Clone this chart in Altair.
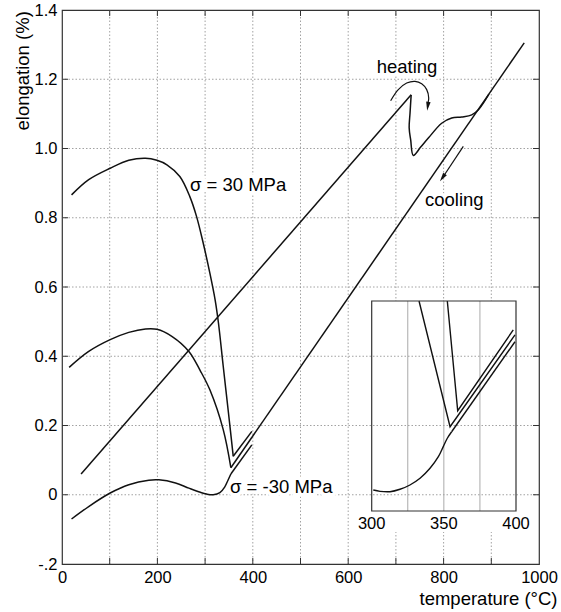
import altair as alt
import pandas as pd

# ---------------- data ----------------
# sigma = 30 MPa : smooth left branch down to its V, then short straight line up
S30_T = [20, 56, 101, 140, 175, 199, 220, 247, 268, 282, 296, 310, 321, 328, 338, 349, 359]
S30_E = [0.866, 0.910, 0.943, 0.966, 0.972, 0.966, 0.953, 0.919, 0.861, 0.804, 0.727, 0.640,
         0.563, 0.496, 0.371, 0.236, 0.111]
S30_LINE_T = [359, 398]
S30_LINE_E = [0.111, 0.183]

# sigma = 0 : left branch, V, then the long cooling line up to the top right
S0_T = [15, 56, 101, 140, 175, 199, 231, 266, 290, 310, 338, 354]
S0_E = [0.368, 0.414, 0.448, 0.469, 0.479, 0.478, 0.457, 0.414, 0.358, 0.303, 0.188, 0.078]
S0_LINE_T = [354, 969]
S0_LINE_E = [0.078, 1.305]

# sigma = -30 MPa
SM30_T = [20, 56, 101, 140, 182, 203, 238, 266, 290, 303, 317, 331, 341, 348, 354]
SM30_E = [-0.070, -0.034, 0.005, 0.029, 0.042, 0.043, 0.034, 0.019, 0.007, 0.002, 0.000,
          0.006, 0.022, 0.042, 0.060]
SM30_LINE_T = [354, 398]
SM30_LINE_E = [0.060, 0.144]

# heating curve: straight rise, then the drop and the hump
HEAT_LINE_T = [40, 732]
HEAT_LINE_E = [0.060, 1.155]
HEAT_T = [732, 729.6, 727.8, 731, 736.5, 752, 768, 796, 817, 838, 859, 873, 895]
HEAT_E = [1.155, 1.102, 1.060, 1.025, 0.980, 1.004, 1.030, 1.073, 1.088, 1.091, 1.097, 1.112, 1.157]

# annotation arrows (shafts and heads)
HEAT_ARROW_T = [689, 705, 722.6, 740, 754.1, 764.6, 768.8, 767.3]
HEAT_ARROW_E = [1.138, 1.170, 1.189, 1.194, 1.187, 1.170, 1.146, 1.132]
COOL_ARROW_T = [841.3, 796]
COOL_ARROW_E = [1.006, 0.912]
HEAD_T = [766.8, 797.7]
HEAD_E = [1.122, 0.916]
HEAD_ANGLE = [188, 214]

# text labels
LABEL_TEXT = ["σ = 30 MPa", "σ = -30 MPa", "heating", "cooling"]
LABEL_T = [268.3, 352.2, 659.7, 761.0]
LABEL_E = [0.895, 0.021, 1.234, 0.851]

# inset (zoom on 300-400 °C)
IN_S30_T = [352.4, 359.6, 398.1]
IN_S30_E = [0.215, 0.0922, 0.1826]
IN_S0_T = [332.8, 354.3, 399.3]
IN_S0_E = [0.215, 0.0743, 0.177]
IN_SM30_T = [301.1, 305.8, 312.7, 319.6, 326.5, 333.5, 340.4, 346.2, 349.6, 352.4, 355.4]
IN_SM30_E = [0.0035, 0.002, 0.0016, 0.0043, 0.0091, 0.0166, 0.0278, 0.0408, 0.052, 0.0614, 0.0687]
IN_SM30_LINE_T = [355.4, 399.3]
IN_SM30_LINE_E = [0.0687, 0.1694]

# axes
X_DOMAIN = [0, 1000]
Y_DOMAIN = [-0.2, 1.4]
X_TICK_VALUES = [0, 200, 400, 600, 800, 1000]
X_TICK_LABELS = ["0", "200", "400", "600", "800", "1000"]
Y_TICK_VALUES = [-0.2, 0, 0.2, 0.4, 0.6, 0.8, 1.0, 1.2, 1.4]
Y_TICK_LABELS = ["-.2", "0", "0.2", "0.4", "0.6", "0.8", "1.0", "1.2", "1.4"]
X_GRID = [100, 200, 300, 400, 500, 600, 700, 800, 900]
Y_GRID = [0, 0.2, 0.4, 0.6, 0.8, 1.0, 1.2]

INSET_X_DOMAIN = [300, 400]
INSET_Y_DOMAIN = [-0.02, 0.215]
INSET_GRID = [325, 350, 375]
INSET_TICK_VALUES = [300, 350, 400]
INSET_TICK_LABELS = ["300", "350", "400"]

# ---------------- layout / style ----------------
W, H = 477, 554
FONT = "Liberation Sans"
INK = "#111111"
GRID_COLOR = "#8a8a8a"
TICK_LEN = 6
INSET_X_RANGE = [309.7, 454]
INSET_Y_RANGE = [501, 291]
PATCH = dict(x=290, x2=468, y=291, y2=522)


def label_expr(values, labels):
    parts = [f"datum.value == {v} ? '{l}'" for v, l in zip(values, labels)]
    return " : ".join(parts) + " : ''"


def curve(T, E, name):
    return pd.DataFrame({"T": T, "E": E, "series": name, "order": list(range(len(T)))})


xs = alt.Scale(domain=X_DOMAIN, nice=False, zero=False)
ys = alt.Scale(domain=Y_DOMAIN, nice=False, zero=False)
ixs = alt.Scale(domain=INSET_X_DOMAIN, range=INSET_X_RANGE, nice=False, zero=False)
iys = alt.Scale(domain=INSET_Y_DOMAIN, range=INSET_Y_RANGE, nice=False, zero=False)

XAXIS = alt.Axis(values=X_TICK_VALUES, labelExpr=label_expr(X_TICK_VALUES, X_TICK_LABELS),
                 grid=False, ticks=False, tickSize=0, domain=False, labelFlush=False,
                 labelOverlap=False, labelFont=FONT, labelFontSize=16.5, labelColor="black",
                 labelPadding=5, title="temperature (°C)", titleFont=FONT, titleFontSize=18.5,
                 titleFontWeight="normal", titleColor="black", titleAlign="right",
                 titleBaseline="alphabetic", titleX=495, titleY=40)
YAXIS = alt.Axis(values=Y_TICK_VALUES, labelExpr=label_expr(Y_TICK_VALUES, Y_TICK_LABELS),
                 grid=False, ticks=False, tickSize=0, domain=False, labelFlush=False,
                 labelOverlap=False, labelFont=FONT, labelFontSize=16.5, labelColor="black",
                 labelPadding=5, title="elongation (%)", titleFont=FONT, titleFontSize=18.5,
                 titleFontWeight="normal", titleColor="black", titleAngle=270,
                 titleAlign="left", titleBaseline="alphabetic", titleX=-34, titleY=120)

# ---------------- main, back (vertical grid + x ticks + x axis) ----------------
vgrid_df = pd.DataFrame({"T": X_GRID})
vgrid = alt.Chart(vgrid_df).mark_rule(color=GRID_COLOR, strokeWidth=0.8, strokeDash=[1.5, 2]).encode(
    x=alt.X("T:Q", scale=xs, axis=XAXIS))
xt_bottom = alt.Chart(vgrid_df).mark_rule(color="#333333", strokeWidth=1).encode(
    x=alt.X("T:Q", scale=xs, axis=XAXIS), y=alt.value(H), y2=alt.value(H - TICK_LEN))
xt_top = alt.Chart(vgrid_df).mark_rule(color="#333333", strokeWidth=1).encode(
    x=alt.X("T:Q", scale=xs, axis=XAXIS), y=alt.value(0), y2=alt.value(TICK_LEN))
main_back = alt.layer(vgrid, xt_bottom, xt_top)

# ---------------- inset white patch ----------------
patch = alt.Chart(pd.DataFrame({"a": [0]})).mark_rect(color="white").encode(
    x=alt.value(PATCH["x"]), x2=alt.value(PATCH["x2"]),
    y=alt.value(PATCH["y"]), y2=alt.value(PATCH["y2"]))
inset_bg = alt.layer(patch)

# ---------------- main, front ----------------
hgrid_df = pd.DataFrame({"E": Y_GRID})
hgrid = alt.Chart(hgrid_df).mark_rule(color=GRID_COLOR, strokeWidth=0.8, strokeDash=[1.5, 2]).encode(
    y=alt.Y("E:Q", scale=ys, axis=YAXIS))
yt_left = alt.Chart(hgrid_df).mark_rule(color="#333333", strokeWidth=1).encode(
    y=alt.Y("E:Q", scale=ys, axis=YAXIS), x=alt.value(0), x2=alt.value(TICK_LEN))
yt_right = alt.Chart(hgrid_df).mark_rule(color="#333333", strokeWidth=1).encode(
    y=alt.Y("E:Q", scale=ys, axis=YAXIS), x=alt.value(W - TICK_LEN), x2=alt.value(W))

labels_df = pd.DataFrame({"text": LABEL_TEXT, "T": LABEL_T, "E": LABEL_E})
halo = alt.Chart(labels_df).mark_text(align="left", baseline="middle", font=FONT, fontSize=18.5,
                                      fill="white", stroke="white", strokeWidth=7).encode(
    x=alt.X("T:Q", scale=xs, axis=None), y=alt.Y("E:Q", scale=ys, axis=YAXIS), text="text:N")
texts = alt.Chart(labels_df).mark_text(align="left", baseline="middle", font=FONT, fontSize=18.5,
                                       color="black").encode(
    x=alt.X("T:Q", scale=xs, axis=None), y=alt.Y("E:Q", scale=ys, axis=YAXIS), text="text:N")

smooth_df = pd.concat([curve(S30_T, S30_E, "s30"), curve(S0_T, S0_E, "s0"),
                       curve(SM30_T, SM30_E, "sm30"), curve(HEAT_T, HEAT_E, "heat")])
straight_df = pd.concat([curve(S30_LINE_T, S30_LINE_E, "s30l"), curve(S0_LINE_T, S0_LINE_E, "s0l"),
                         curve(SM30_LINE_T, SM30_LINE_E, "sm30l"),
                         curve(HEAT_LINE_T, HEAT_LINE_E, "heatl")])
smooth = alt.Chart(smooth_df).mark_line(color=INK, strokeWidth=1.5, interpolate="catmull-rom").encode(
    x=alt.X("T:Q", scale=xs, axis=None), y=alt.Y("E:Q", scale=ys, axis=YAXIS),
    detail="series:N", order="order:Q")
straight = alt.Chart(straight_df).mark_line(color=INK, strokeWidth=1.5).encode(
    x=alt.X("T:Q", scale=xs, axis=None), y=alt.Y("E:Q", scale=ys, axis=YAXIS),
    detail="series:N", order="order:Q")

arrows_df = pd.concat([curve(HEAT_ARROW_T, HEAT_ARROW_E, "ha"), curve(COOL_ARROW_T, COOL_ARROW_E, "ca")])
arrows = alt.Chart(arrows_df).mark_line(color=INK, strokeWidth=1.2, interpolate="catmull-rom").encode(
    x=alt.X("T:Q", scale=xs, axis=None), y=alt.Y("E:Q", scale=ys, axis=YAXIS),
    detail="series:N", order="order:Q")
heads_df = pd.DataFrame({"T": HEAD_T, "E": HEAD_E, "angle": HEAD_ANGLE})
heads = alt.Chart(heads_df).mark_point(shape="M0,-1L0.5,1L-0.5,1Z", filled=True, color=INK,
                                       size=80, opacity=1).encode(
    x=alt.X("T:Q", scale=xs, axis=None), y=alt.Y("E:Q", scale=ys, axis=YAXIS),
    angle=alt.Angle("angle:Q", scale=None))

main_front = alt.layer(hgrid, yt_left, yt_right, halo, smooth, straight, arrows, heads, texts)

# ---------------- inset, front ----------------
igrid_df = pd.DataFrame({"T": INSET_GRID, "y0": INSET_Y_DOMAIN[0], "y1": INSET_Y_DOMAIN[1]})
igrid = alt.Chart(igrid_df).mark_rule(color="#a0a0a0", strokeWidth=0.9).encode(
    x=alt.X("T:Q", scale=ixs, axis=None), y=alt.Y("y0:Q", scale=iys, axis=None), y2="y1:Q")
istraight_df = pd.concat([curve(IN_S30_T, IN_S30_E, "s30"), curve(IN_S0_T, IN_S0_E, "s0"),
                          curve(IN_SM30_LINE_T, IN_SM30_LINE_E, "sm30l")])
istraight = alt.Chart(istraight_df).mark_line(color=INK, strokeWidth=1.4).encode(
    x=alt.X("T:Q", scale=ixs, axis=None), y=alt.Y("E:Q", scale=iys, axis=None),
    detail="series:N", order="order:Q")
ismooth_df = curve(IN_SM30_T, IN_SM30_E, "sm30")
ismooth = alt.Chart(ismooth_df).mark_line(color=INK, strokeWidth=1.4, interpolate="catmull-rom").encode(
    x=alt.X("T:Q", scale=ixs, axis=None), y=alt.Y("E:Q", scale=iys, axis=None),
    detail="series:N", order="order:Q")
iframe_df = pd.DataFrame({"x0": [INSET_X_DOMAIN[0]], "x1": [INSET_X_DOMAIN[1]],
                          "y0": [INSET_Y_DOMAIN[0]], "y1": [INSET_Y_DOMAIN[1]]})
iframe = alt.Chart(iframe_df).mark_rect(filled=False, stroke="#333333", strokeWidth=1.2).encode(
    x=alt.X("x0:Q", scale=ixs, axis=None), x2="x1:Q",
    y=alt.Y("y0:Q", scale=iys, axis=None), y2="y1:Q")
ilabels_df = pd.DataFrame({"T": INSET_TICK_VALUES, "text": INSET_TICK_LABELS})
ilabels = alt.Chart(ilabels_df).mark_text(font=FONT, fontSize=16.5, color="black",
                                          baseline="middle", align="center").encode(
    x=alt.X("T:Q", scale=ixs, axis=None), y=alt.value(514), text="text:N")
inset_front = alt.layer(igrid, istraight, ismooth, iframe, ilabels)

chart = alt.layer(main_back, inset_bg, main_front, inset_front).resolve_scale(
    x="independent", y="independent"
).properties(
    width=W, height=H,
    autosize=alt.AutoSizeParams(type="none"),
    padding={"left": 62, "top": 10, "right": 22, "bottom": 48},
).configure_view(stroke="#333333", strokeWidth=1.2)

chart.save("out.html", embed_options={"renderer": "svg", "actions": False})
